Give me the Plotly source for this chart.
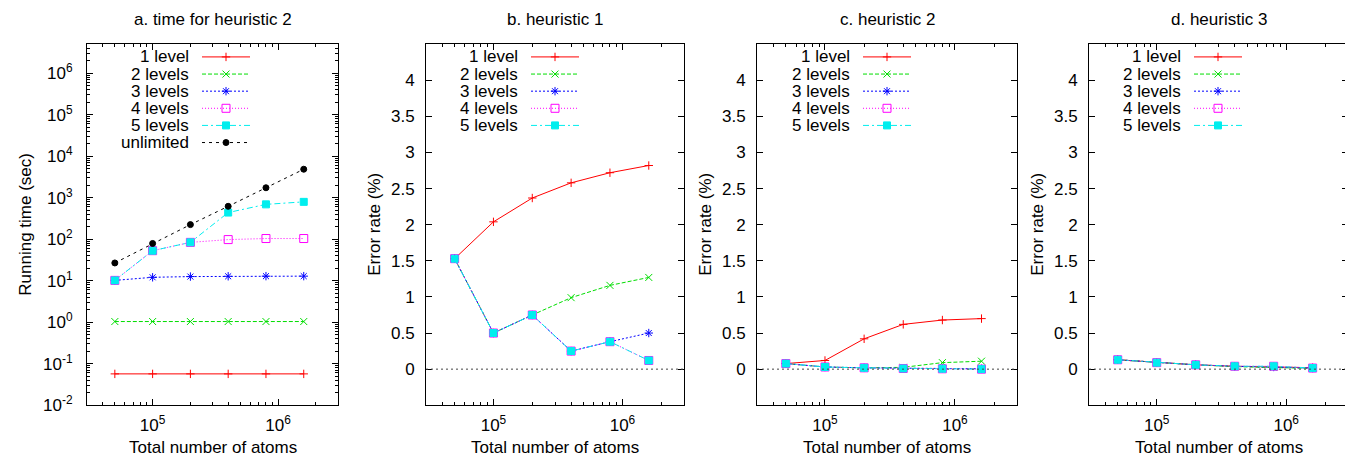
import plotly.graph_objects as go
import math

# ---------------- data ----------------
atoms = [50000, 100000, 200000, 400000, 800000, 1600000]
series_names = ["1 level", "2 levels", "3 levels", "4 levels", "5 levels", "unlimited"]

# a. running time (sec) for heuristic 2
time_1 = [0.057, 0.057, 0.057, 0.057, 0.057, 0.057]
time_2 = [1.04, 1.04, 1.04, 1.04, 1.04, 1.04]
time_3 = [10.2, 12.1, 12.6, 12.8, 12.9, 12.9]
time_4 = [10.2, 53, 84, 98, 104, 104]
time_5 = [10.2, 53, 84, 439, 692, 795]
time_unl = [26.8, 79, 225, 621, 1738, 4860]

# b. error rate (%) heuristic 1
h1_1 = [1.53, 2.04, 2.37, 2.58, 2.72, 2.82]
h1_2 = [1.53, 0.50, 0.75, 0.99, 1.16, 1.27]
h1_3 = [1.53, 0.50, 0.75, 0.25, 0.38, 0.50]
h1_4 = [1.53, 0.50, 0.75, 0.25, 0.38, 0.12]
h1_5 = [1.53, 0.50, 0.75, 0.25, 0.38, 0.12]

# c. error rate (%) heuristic 2
h2_1 = [0.077, 0.12, 0.42, 0.62, 0.68, 0.70]
h2_2 = [0.077, 0.03, 0.018, 0.025, 0.09, 0.11]
h2_3 = [0.077, 0.03, 0.018, 0.01, 0.009, 0.005]
h2_4 = [0.077, 0.03, 0.018, 0.009, 0.005, 0.0]
h2_5 = [0.077, 0.03, 0.018, 0.009, 0.006, 0.0]

# d. error rate (%) heuristic 3
h3_1 = [0.13, 0.09, 0.06, 0.04, 0.035, 0.02]
h3_2 = [0.13, 0.09, 0.06, 0.035, 0.025, 0.01]
h3_3 = [0.13, 0.09, 0.06, 0.04, 0.03, 0.015]
h3_4 = [0.13, 0.09, 0.06, 0.04, 0.04, 0.015]
h3_5 = [0.13, 0.09, 0.06, 0.04, 0.04, 0.015]

panel_titles = ["a. time for heuristic 2", "b. heuristic 1", "c. heuristic 2", "d. heuristic 3"]
x_title = "Total number of atoms"
y_titles = ["Running time (sec)", "Error rate (%)", "Error rate (%)", "Error rate (%)"]

x_tickvals = [1e5, 1e6]
x_ticktext = ["10<sup>5</sup>", "10<sup>6</sup>"]
ya_tickvals = [1e-2, 1e-1, 1e0, 1e1, 1e2, 1e3, 1e4, 1e5, 1e6]
ya_ticktext = ["10<sup>-2</sup>", "10<sup>-1</sup>", "10<sup>0</sup>", "10<sup>1</sup>", "10<sup>2</sup>",
               "10<sup>3</sup>", "10<sup>4</sup>", "10<sup>5</sup>", "10<sup>6</sup>"]
err_tickvals = [0, 0.5, 1, 1.5, 2, 2.5, 3, 3.5, 4]
err_ticktext = ["0", "0.5", "1", "1.5", "2", "2.5", "3", "3.5", "4"]

# ---------------- styles ----------------
W, H = 1353, 464
FONT = "Liberation Sans, Arial, sans-serif"
FS = 17
styles = [
    dict(color="#ff0000", dash="solid", symbol="cross-thin-open", size=6, mfill="#ff0000"),
    dict(color="#00dd00", dash="4px,2px", symbol="x-thin-open", size=7, mfill="#00dd00"),
    dict(color="#0000ff", dash="2px,2px", symbol="asterisk-open", size=7, mfill="#0000ff"),
    dict(color="#ff00ff", dash="1px,2px", symbol="square-open", size=8, mfill="#ff00ff"),
    dict(color="#00eeee", dash="6px,3px,2px,3px", symbol="square", size=7, mfill="#00eeee"),
    dict(color="#000000", dash="3px,4px", symbol="circle", size=6, mfill="#000000"),
]

px_lr = [(79, 330), (418, 676), (749, 1009), (1081, 1340)]
top_px, bot_px = 37, 406
ydom = [(H - bot_px) / H, (H - top_px) / H]

fig = go.Figure()

panels = [
    [time_1, time_2, time_3, time_4, time_5, time_unl],
    [h1_1, h1_2, h1_3, h1_4, h1_5],
    [h2_1, h2_2, h2_3, h2_4, h2_5],
    [h3_1, h3_2, h3_3, h3_4, h3_5],
]

for p, series in enumerate(panels):
    ax = "" if p == 0 else str(p + 1)
    for i, ys in enumerate(series):
        s = styles[i]
        fig.add_trace(go.Scatter(
            x=atoms, y=ys, mode="lines+markers", name=series_names[i],
            xaxis="x" + ax, yaxis="y" + ax, showlegend=False,
            line=dict(color=s["color"], width=1, dash=s["dash"]),
            marker=dict(symbol=s["symbol"], size=s["size"], color=s["mfill"],
                        line=dict(color=s["color"], width=1)),
        ))

common = dict(showline=True, linecolor="black", linewidth=1, mirror="allticks",
              ticks="inside", ticklen=6, tickcolor="black", tickwidth=1,
              showgrid=False, zeroline=False,
              tickfont=dict(family=FONT, size=FS, color="black"))

minor_x = [k * 10 ** e for e in (4, 5, 6) for k in range(2, 10)]
minor_y = [k * 10 ** e for e in range(-2, 7) for k in range(2, 10)]

layout = dict(width=W, height=H, margin=dict(l=0, r=0, t=0, b=0),
              paper_bgcolor="white", plot_bgcolor="rgba(0,0,0,0)",
              font=dict(family=FONT, size=FS, color="black"), showlegend=False)

for p in range(4):
    ax = "" if p == 0 else str(p + 1)
    l, r = px_lr[p]
    xa = dict(common)
    xa.update(type="log", domain=[l / W, r / W],
              range=[math.log10(3e4), math.log10(3e6)],
              tickmode="array", tickvals=x_tickvals, ticktext=x_ticktext,
              ticklabelstandoff=4,
              minor=dict(tickmode="array", tickvals=minor_x, ticks="inside", ticklen=3,
                         tickcolor="black", showgrid=False),
              anchor="y" + ax)
    ya = dict(common)
    if p == 0:
        ya.update(type="log", domain=ydom, range=[-2, math.log10(5e6)],
                  tickmode="array", tickvals=ya_tickvals, ticktext=ya_ticktext,
                  ticklabelstandoff=10,
                  minor=dict(tickmode="array", tickvals=minor_y, ticks="inside", ticklen=3,
                             tickcolor="black", showgrid=False),
                  anchor="x" + ax)
    else:
        ya.update(type="linear", domain=ydom, range=[-0.5, 4.5],
                  tickmode="array", tickvals=err_tickvals, ticktext=err_ticktext,
                  ticklabelstandoff=7,
                  anchor="x" + ax)
    layout["xaxis" + ax] = xa
    layout["yaxis" + ax] = ya

layout["xaxis5"] = dict(domain=[0, 1], range=[0, W], visible=False, fixedrange=True, anchor="y5")
layout["yaxis5"] = dict(domain=[0, 1], range=[H, 0], visible=False, fixedrange=True, anchor="x5")

fig.update_layout(**layout)

annotations = []
shapes = []

for p in range(1, 4):
    ax = str(p + 1)
    shapes.append(dict(type="line", xref="x" + ax + " domain", x0=0, x1=1,
                       yref="y" + ax, y0=0, y1=0,
                       line=dict(color="#444444", width=1, dash="2px,3px")))

for p in range(4):
    l, r = px_lr[p]
    cx = (l + r) / 2
    annotations.append(dict(text=panel_titles[p], x=cx / W, y=1 - 12 / H, xref="paper", yref="paper",
                            xanchor="center", yanchor="middle", showarrow=False,
                            font=dict(family=FONT, size=FS, color="black")))
    annotations.append(dict(text=x_title, x=cx / W, y=1 - 449 / H, xref="paper", yref="paper",
                            xanchor="center", yanchor="middle", showarrow=False,
                            font=dict(family=FONT, size=FS, color="black")))
ytitle_x = [18, 367, 698, 1030]
for p in range(4):
    annotations.append(dict(text=y_titles[p], x=ytitle_x[p] / W, y=1 - 221.5 / H,
                            xref="paper", yref="paper", textangle=-90,
                            xanchor="center", yanchor="middle", showarrow=False,
                            font=dict(family=FONT, size=FS, color="black")))

leg_text_right = [183, 512, 844, 1175]
row0, row_step = 50, 17.5
for p, series in enumerate(panels):
    tr = leg_text_right[p]
    lx0, lx1 = tr + 11, tr + 59
    for i in range(len(series)):
        s = styles[i]
        ry = row0 + i * row_step
        annotations.append(dict(text=series_names[i], x=tr / W, y=1 - ry / H, xref="paper", yref="paper",
                                xanchor="right", yanchor="middle", showarrow=False,
                                font=dict(family=FONT, size=FS, color="black")))
        fig.add_trace(go.Scatter(x=[lx0, lx1], y=[ry, ry], mode="lines", xaxis="x5", yaxis="y5",
                                 showlegend=False, hoverinfo="skip",
                                 line=dict(color=s["color"], width=1, dash=s["dash"])))
        fig.add_trace(go.Scatter(x=[(lx0 + lx1) / 2], y=[ry], mode="markers", xaxis="x5", yaxis="y5",
                                 showlegend=False, hoverinfo="skip",
                                 marker=dict(symbol=s["symbol"], size=s["size"], color=s["mfill"],
                                             line=dict(color=s["color"], width=1))))

fig.update_layout(annotations=annotations, shapes=shapes)
fig.write_html("out.html")
